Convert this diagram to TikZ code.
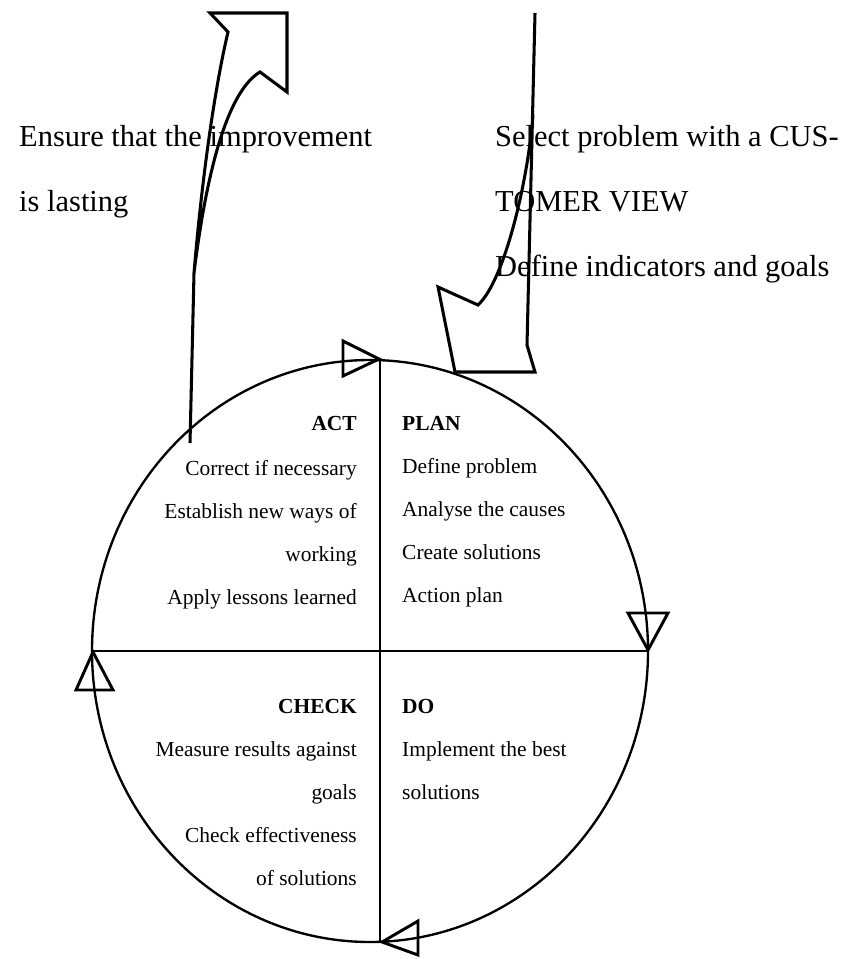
\documentclass[tikz,border=0pt]{standalone}
\usepackage{fontspec}
\setmainfont{Liberation Serif}
\begin{document}
\begin{tikzpicture}[x=0.03cm,y=-0.03cm,
    rim/.style={line width=2pt},
    bigarrow/.style={line width=2.6pt,line join=miter},
    tri/.style={line width=2.5pt,line join=miter},
    quad/.style={inner sep=0pt,font=\fontsize{18.3}{22}\selectfont},
    head/.style={inner sep=0pt,font=\fontsize{18.3}{22}\selectfont\bfseries},
    note/.style={inner sep=0pt,anchor=base west,font=\fontsize{26}{31}\selectfont}]
  \useasboundingbox (0,0) rectangle (853,959);
  \draw[rim] (370,651) ellipse [x radius=278,y radius=291];
  \draw[rim] (380,360) -- (380,942) (93,651) -- (648,651);
  \draw[tri] (379,359) -- (343,341) -- (343,376) -- cycle;
  \draw[tri] (648,650) -- (628,613) -- (668,613) -- cycle;
  \draw[tri] (382,942) -- (418,921) -- (418,955) -- cycle;
  \draw[tri] (93,652) -- (76,690) -- (113,690) -- cycle;
  \draw[bigarrow] (190,443) -- (194,273) .. controls (200,200) and (212,100) .. (228,32)
    -- (210,13) -- (287,13) -- (287,92) -- (260,72) .. controls (230,90) and (208,160) .. (194,273);
  \draw[bigarrow] (535,13) -- (527,345) -- (535,372) -- (455,372) -- (438,287) -- (478,305)
    .. controls (505,280) and (528,180) .. (533,115);
  \node[note] (lasting1) at (19,147) {Ensure that the improvement};
  \node[note] (lasting2) at (19,211) {is lasting};
  \node[note] (select1) at (495,147) {Select problem with a CUS-};
  \node[note] (select2) at (495,211) {TOMER VIEW};
  \node[note] (select3) at (495,276) {Define indicators and goals};
  \node[head,anchor=base east] (act) at (357,430) {ACT};
  \foreach \txt [count=\i] in {Correct if necessary,Establish new ways of,working,Apply lessons learned}
    \node[quad,anchor=base east] (act\i) at (357,{432+43*\i}) {\txt};
  \node[head,anchor=base west] (plan) at (402,430) {PLAN};
  \foreach \txt [count=\i] in {Define problem,Analyse the causes,Create solutions,Action plan}
    \node[quad,anchor=base west] (plan\i) at (402,{430+43*\i}) {\txt};
  \node[head,anchor=base east] (check) at (357,713) {CHECK};
  \foreach \txt [count=\i] in {Measure results against,goals,Check effectiveness,of solutions}
    \node[quad,anchor=base east] (check\i) at (357,{713+43*\i}) {\txt};
  \node[head,anchor=base west] (do) at (402,713) {DO};
  \foreach \txt [count=\i] in {Implement the best,solutions}
    \node[quad,anchor=base west] (do\i) at (402,{713+43*\i}) {\txt};
\end{tikzpicture}
\end{document}
